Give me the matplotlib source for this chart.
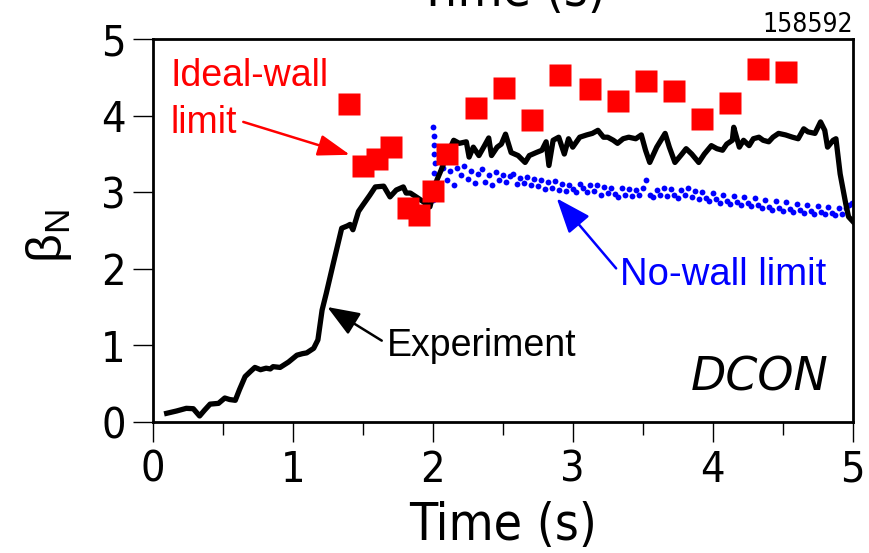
import matplotlib
matplotlib.use("Agg")
import matplotlib.pyplot as plt

plt.rcParams['font.family'] = ['Liberation Sans', 'DejaVu Sans']

# measured beta_N trace (shot 158592)
exp_t = [0.10, 0.17, 0.24, 0.29, 0.335, 0.37, 0.41, 0.47, 0.515, 0.55, 0.59, 0.62,
         0.66, 0.70, 0.73, 0.77, 0.81, 0.84, 0.86, 0.91, 0.97, 1.03, 1.07, 1.10,
         1.15, 1.18, 1.21, 1.24, 1.29, 1.35, 1.39, 1.41, 1.43, 1.47, 1.50, 1.55,
         1.59, 1.65, 1.695, 1.74, 1.79, 1.81, 1.84, 1.89, 1.93, 1.98, 2.03, 2.06,
         2.10, 2.15, 2.19, 2.24, 2.26, 2.29, 2.33, 2.37, 2.40, 2.42, 2.46, 2.49,
         2.52, 2.56, 2.61, 2.66, 2.69, 2.74, 2.78, 2.81, 2.83, 2.86, 2.90, 2.94,
         2.97, 3.00, 3.05, 3.10, 3.14, 3.18, 3.22, 3.25, 3.29, 3.32, 3.36, 3.40,
         3.45, 3.49, 3.52, 3.55, 3.60, 3.66, 3.69, 3.73, 3.78, 3.81, 3.85, 3.90,
         3.94, 3.99, 4.03, 4.07, 4.10, 4.14, 4.15, 4.19, 4.22, 4.26, 4.29, 4.33,
         4.36, 4.40, 4.43, 4.47, 4.52, 4.57, 4.61, 4.65, 4.68, 4.73, 4.77, 4.80,
         4.82, 4.86, 4.88, 4.91, 4.95, 4.97, 5.00]
exp_beta = [0.11, 0.14, 0.175, 0.17, 0.075, 0.15, 0.23, 0.24, 0.31, 0.29, 0.28, 0.42,
            0.59, 0.66, 0.71, 0.68, 0.70, 0.69, 0.72, 0.71, 0.78, 0.87, 0.89, 0.90,
            0.96, 1.07, 1.46, 1.68, 2.07, 2.53, 2.56, 2.58, 2.51, 2.75, 2.83, 2.96,
            3.07, 3.08, 2.94, 3.03, 3.07, 2.99, 2.99, 2.93, 2.88, 2.81, 3.16, 3.29,
            3.48, 3.68, 3.64, 3.66, 3.46, 3.59, 3.48, 3.61, 3.71, 3.48, 3.59, 3.63,
            3.76, 3.52, 3.48, 3.39, 3.48, 3.52, 3.55, 3.66, 3.35, 3.68, 3.72, 3.50,
            3.70, 3.59, 3.72, 3.75, 3.77, 3.81, 3.72, 3.72, 3.68, 3.64, 3.70, 3.72,
            3.70, 3.75, 3.55, 3.39, 3.59, 3.77, 3.59, 3.39, 3.50, 3.57, 3.50, 3.39,
            3.50, 3.61, 3.57, 3.55, 3.63, 3.68, 3.85, 3.59, 3.68, 3.61, 3.70, 3.72,
            3.68, 3.66, 3.72, 3.77, 3.75, 3.72, 3.70, 3.83, 3.79, 3.77, 3.92, 3.81,
            3.59, 3.68, 3.70, 3.24, 2.85, 2.68, 2.62]

# DCON ideal-wall limit
ideal_t = [1.40, 1.50, 1.60, 1.70, 1.82, 1.90, 2.00, 2.10, 2.31, 2.51, 2.71, 2.91,
           3.12, 3.32, 3.52, 3.72, 3.92, 4.12, 4.32, 4.52]
ideal_beta = [4.15, 3.35, 3.43, 3.59, 2.79, 2.70, 3.02, 3.50, 4.10, 4.36, 3.95, 4.53,
              4.35, 4.20, 4.46, 4.32, 3.96, 4.17, 4.61, 4.57]

# DCON no-wall limit
nowall_t = [2.005, 2.005, 2.008, 2.008, 2.010, 2.010, 2.012, 2.012, 2.015,
            2.025, 2.050, 2.075, 2.100, 2.125, 2.150, 2.175, 2.200, 2.225, 2.250,
            2.275, 2.300, 2.325, 2.350, 2.375, 2.400, 2.425, 2.450, 2.475, 2.500,
            2.525, 2.550, 2.575, 2.600, 2.625, 2.650, 2.675, 2.700, 2.725, 2.750,
            2.775, 2.800, 2.825, 2.850, 2.875, 2.900, 2.925, 2.950, 2.975, 3.000,
            3.025, 3.050, 3.075, 3.100, 3.125, 3.150, 3.175, 3.200, 3.225, 3.250,
            3.275, 3.300, 3.325, 3.350, 3.375, 3.400, 3.425, 3.450, 3.475, 3.500,
            3.525, 3.550, 3.575, 3.600, 3.625, 3.650, 3.675, 3.700, 3.725, 3.750,
            3.775, 3.800, 3.825, 3.850, 3.875, 3.900, 3.925, 3.950, 3.975, 4.000,
            4.025, 4.050, 4.075, 4.100, 4.125, 4.150, 4.175, 4.200, 4.225, 4.250,
            4.275, 4.300, 4.325, 4.350, 4.375, 4.400, 4.425, 4.450, 4.475, 4.500,
            4.525, 4.550, 4.575, 4.600, 4.625, 4.650, 4.675, 4.700, 4.725, 4.750,
            4.775, 4.800, 4.825, 4.850, 4.875, 4.900, 4.925, 4.950, 4.975, 4.995]
nowall_beta = [2.90, 3.85, 3.00, 3.74, 3.12, 3.62, 3.25, 3.50, 3.38,
               3.05, 2.93, 3.32, 3.16, 3.28, 3.10, 3.32, 3.22, 3.34, 3.18,
               3.28, 3.12, 3.24, 3.30, 3.14, 3.22, 3.10, 3.26, 3.16, 3.23,
               3.13, 3.21, 3.24, 3.11, 3.19, 3.12, 3.20, 3.10, 3.18, 3.08,
               3.16, 3.04, 3.13, 3.06, 3.15, 3.03, 3.11, 3.02, 3.10, 3.04,
               3.01, 3.11, 3.05, 3.00, 3.09, 3.02, 3.10, 2.96, 3.07, 2.99,
               3.06, 2.98, 2.94, 3.05, 2.97, 3.04, 2.95, 3.03, 2.96, 3.05,
               3.16, 2.97, 2.94, 3.03, 2.96, 3.05, 2.95, 3.04, 2.97, 2.93,
               3.03, 2.96, 3.05, 2.94, 3.02, 2.91, 3.00, 2.93, 2.88, 2.99,
               2.91, 2.86, 2.97, 2.89, 2.85, 2.95, 2.87, 2.83, 2.94, 2.86,
               2.82, 2.92, 2.84, 2.79, 2.90, 2.81, 2.77, 2.88, 2.80, 2.76,
               2.87, 2.78, 2.74, 2.85, 2.77, 2.73, 2.84, 2.76, 2.72, 2.82,
               2.74, 2.71, 2.81, 2.73, 2.70, 2.80, 2.72, 2.80, 2.84, 2.86]

xticks = [0, 1, 2, 3, 4, 5]
yticks = [0, 1, 2, 3, 4, 5]

fig = plt.figure(figsize=(8.69, 5.53), dpi=100)
ax = fig.add_axes([0.1757, 0.2374, 0.8056, 0.6915])

ax.plot(nowall_t, nowall_beta, ls='none', marker='o', ms=4.2, color='#0000ff',
        mec='none', zorder=2)
ax.plot(exp_t, exp_beta, color='black', lw=3.8, solid_joinstyle='round', zorder=3)
ax.plot(ideal_t, ideal_beta, ls='none', marker='s', ms=15.8, color='#ff0000',
        mec='none', zorder=4)

ax.set_xlim(0, 5)
ax.set_ylim(0, 5)
ax.set_xticks(xticks)
ax.set_xticks([0.5, 1.5, 2.5, 3.5, 4.5], minor=True)
ax.set_yticks(yticks)

# condensed face for axis numbers and labels
narrow = dict(family='DejaVu Sans', stretch='condensed')
for lab in ax.get_xticklabels() + ax.get_yticklabels():
    lab.set_family(narrow['family'])
    lab.set_stretch(narrow['stretch'])
ax.tick_params(axis='both', which='major', direction='out', length=14.5,
               width=1.0, labelsize=31, pad=5)
ax.tick_params(axis='y', which='major', pad=5)
ax.tick_params(axis='x', which='minor', direction='out', length=9, width=1.0)
ax.tick_params(top=False, right=False)
for sp in ax.spines.values():
    sp.set_linewidth(2.0)

ax.set_xlabel('Time (s)', fontsize=37, labelpad=7, **narrow)
ax.set_ylabel(r'$\mathregular{\beta_N}$', fontsize=36)
ax.yaxis.set_label_coords(-0.112, 0.486)

# annotations
ax.text(0.124, 4.39, 'Ideal-wall', color='#ff0000', fontsize=27)
ax.text(0.124, 3.78, 'limit', color='#ff0000', fontsize=27)
ax.annotate('', xy=(1.409, 3.49), xytext=(0.647, 3.92),
            arrowprops=dict(arrowstyle='-|>,head_length=0.9,head_width=0.3',
                            mutation_scale=22, color='#ff0000', lw=1.8,
                            shrinkA=0, shrinkB=0))

ax.text(1.674, 0.86, 'Experiment', color='black', fontsize=27)
ax.annotate('', xy=(1.247, 1.50), xytext=(1.636, 1.06),
            arrowprops=dict(arrowstyle='-|>,head_length=0.9,head_width=0.35',
                            mutation_scale=22, color='black', lw=1.8,
                            shrinkA=0, shrinkB=0))

ax.text(3.34, 1.79, 'No-wall limit', color='#0000ff', fontsize=27.5)
ax.annotate('', xy=(2.886, 2.92), xytext=(3.31, 2.005),
            arrowprops=dict(arrowstyle='-|>,head_length=0.9,head_width=0.35',
                            mutation_scale=24, color='#0000ff', lw=1.8,
                            shrinkA=0, shrinkB=0))

ax.text(4.826, 0.405, 'DCON', color='black', fontsize=33, style='italic',
        ha='right', family='DejaVu Sans')

ax.text(1.0, 1.019, '158592', transform=ax.transAxes, ha='right', va='baseline',
        fontsize=19, **narrow)

# title of the panel above, clipped by the figure edge
fig.text(0.589, 1 - 6 / 553, 'Time (s)', ha='center', va='baseline',
         fontsize=37, **narrow)

fig.savefig('out.png', dpi=100)
